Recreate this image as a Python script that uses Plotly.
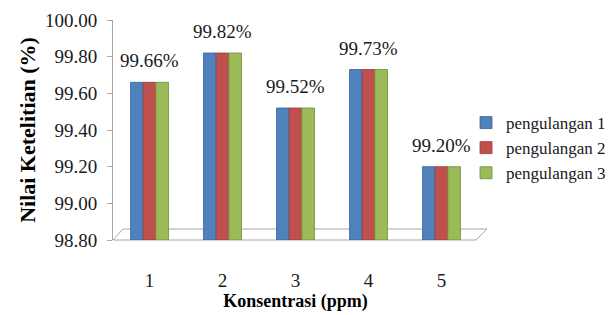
import plotly.graph_objects as go

categories = ["1", "2", "3", "4", "5"]
series_names = ["pengulangan 1", "pengulangan 2", "pengulangan 3"]
pengulangan_1 = [99.66, 99.82, 99.52, 99.73, 99.20]
pengulangan_2 = [99.66, 99.82, 99.52, 99.73, 99.20]
pengulangan_3 = [99.66, 99.82, 99.52, 99.73, 99.20]
label_values = [99.66, 99.82, 99.52, 99.73, 99.20]
y_ticks = [98.80, 99.00, 99.20, 99.40, 99.60, 99.80, 100.00]
y_base = 98.8

colors = ["#4F81BD", "#C0504D", "#9BBB59"]
edge_colors = ["#3A6496", "#963C3A", "#6E8C3A"]
serif = "Liberation Serif"
txt = "#1a1a22"

# page body has an 8px margin: figure is drawn at (8, 8) in the 615x315 window
OFF = 8
WIN_W, WIN_H = 615, 315
W, H = WIN_W - OFF, WIN_H - OFF
PL, PR, PT, PB = 113, 478, 20, 240  # plot area in window pixels
L, R, T, B = PL - OFF, WIN_W - PR, PT - OFF, WIN_H - PB

fig = go.Figure()
for name, vals, c, ec in zip(series_names, [pengulangan_1, pengulangan_2, pengulangan_3], colors, edge_colors):
    fig.add_trace(go.Bar(
        x=categories, y=[v - y_base for v in vals], base=y_base, name=name,
        customdata=vals,
        marker=dict(color=c, line=dict(color=ec, width=0.8)),
        hovertemplate="%{x}: %{customdata:.2f}<extra>" + name + "</extra>",
    ))

annotations = []
for i, v in enumerate(label_values):
    annotations.append(dict(
        x=i, y=v, xref="x", yref="y", text=f"{v:.2f}%",
        showarrow=False, yanchor="bottom", yshift=9,
        font=dict(family=serif, size=19, color=txt),
    ))

pw = PR - PL
ph = PB - PT
def px(xp):
    return (xp - PL) / pw
def py(yp):
    return (PB - yp) / ph

shapes = [
    dict(type="path", xref="paper", yref="paper",
         path=f"M {px(113)},{py(240)} L {px(476)},{py(240)} L {px(487)},{py(229)} L {px(123)},{py(229)} Z",
         line=dict(color="#A6A6A6", width=1), fillcolor="rgba(0,0,0,0)", layer="below"),
]

fig.update_layout(
    width=W, height=H,
    margin=dict(l=L, r=R, t=T, b=B, autoexpand=False),
    paper_bgcolor="white", plot_bgcolor="white",
    barmode="group", bargap=0.48, bargroupgap=0,
    showlegend=True,
    legend=dict(x=px(466), xanchor="left", y=py(105), yanchor="top",
                font=dict(family=serif, size=17, color=txt),
                itemwidth=30, tracegroupgap=0, bgcolor="rgba(0,0,0,0)"),
    annotations=annotations,
    shapes=shapes,
    font=dict(family=serif, color=txt),
)
fig.update_xaxes(
    type="category", showline=False, showgrid=False, ticks="",
    tickfont=dict(family=serif, size=19, color=txt),
    ticklabelstandoff=27,
    title=dict(text="<b>Konsentrasi (ppm)</b>", font=dict(family=serif, size=18, color="black"), standoff=0),
)
fig.update_yaxes(
    range=[98.8, 100.0], tickvals=y_ticks, tickformat=".2f",
    showline=True, linecolor="#A6A6A6", linewidth=1,
    ticks="outside", ticklen=5, tickcolor="#A6A6A6",
    showgrid=False, zeroline=False,
    tickfont=dict(family=serif, size=19, color=txt),
    ticklabelstandoff=6,
    title=dict(text="<b>Nilai Ketelitian (%)</b>", font=dict(family=serif, size=22, color="black"), standoff=3),
)

fig.write_html("out.html")
